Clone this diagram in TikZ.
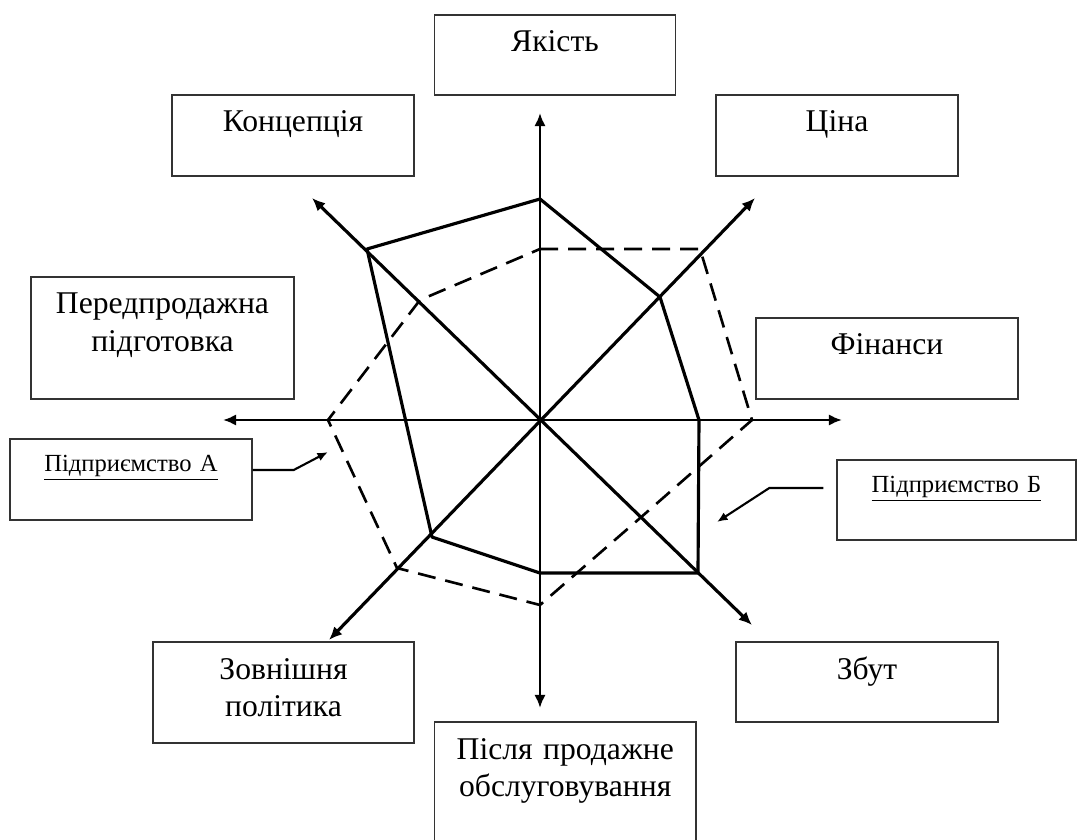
\documentclass[tikz,border=0pt]{standalone}
\usepackage{fontspec}
\setmainfont{Liberation Serif}
\usetikzlibrary{arrows.meta}
\definecolor{frame}{HTML}{333333}

\begin{document}
\begin{tikzpicture}[font=\fontsize{18}{21.3}\selectfont,box/.style={draw=frame,line width=0.8pt,inner sep=0pt,align=center,text height=0.74cm},firm/.style={box,font=\fontsize{14}{17}\selectfont,text height=0.65cm},axis/.style={{Latex[length=7.5pt,width=6.5pt]}-{Latex[length=7.5pt,width=6.5pt]},line width=1.8pt},plotA/.style={line width=1.5pt,dash pattern=on 0.36cm off 0.2cm},plotB/.style={line width=1.8pt,line join=round},callout/.style={-{Latex[length=6pt,width=5pt]},line width=1.2pt}]
\useasboundingbox (-10.8,-8.4) rectangle (10.76,8.4);
\clip (-10.8,-8.4) rectangle (10.76,8.4);
\node[box,text width=4.82cm,text depth=0.86cm] (quality) at (0.30,7.30) {Якість};
\node[box,text width=4.84cm,text depth=0.88cm] (concept) at (-4.94,5.69) {Концепція};
\node[box,text width=4.84cm,text depth=0.88cm] (price) at (5.94,5.69) {Ціна};
\node[box,text width=5.26cm,text depth=1.70cm] (presale) at (-7.55,1.64) {Передпродажна\\підготовка};
\node[box,text width=5.24cm,text depth=0.88cm] (finance) at (6.94,1.23) {Фінанси};
\node[firm,text width=4.84cm,text depth=0.97cm] (entA) at (-8.18,-1.19) {\underline{Підприємство А}};
\node[firm,text width=4.78cm,text depth=0.95cm] (entB) at (8.33,-1.60) {\underline{Підприємство Б}};
\node[box,text width=5.22cm,text depth=1.28cm] (policy) at (-5.13,-5.45) {Зовнішня\\політика};
\node[box,text width=5.24cm,text depth=0.86cm] (sales) at (6.54,-5.24) {Збут};
\node[box,text width=5.23cm,text depth=1.74cm] (service) at (0.505,-7.28) {Після продажне\\обслуговування};
% axes
\coordinate (tN) at (0,6.14);
\coordinate (tS) at (0,-5.76);
\coordinate (tW) at (-6.34,0);
\coordinate (tE) at (6.04,0);
\coordinate (tNW) at (-4.56,4.44);
\coordinate (tSE) at (4.24,-4.10);
\coordinate (tNE) at (4.30,4.44);
\coordinate (tSW) at (-4.22,-4.40);
\draw[axis,line width=1.5pt] (tS) -- (tN);
\draw[axis,line width=1.5pt] (tW) -- (tE);
\draw[axis] (tSE) -- (tNW);
\draw[axis] (tSW) -- (tNE);
% profiles
\draw[plotB] (0,4.42) -- (2.40,2.46) -- (3.18,0) -- (3.16,-3.06) -- (0,-3.06) -- (-2.16,-2.34) -- (-2.69,0) -- (-3.46,3.42) -- cycle;
\draw[plotA] (0,3.42) -- (3.20,3.42) -- (4.24,0) -- (1.98,-1.98) -- (0,-3.70) -- (-2.86,-2.96) -- (-4.24,0) -- (-2.40,2.40) -- cycle;
% callouts
\coordinate (ptA) at (-4.24,-0.64);
\coordinate (ptB) at (3.54,-2.04);
\draw[callout] ([yshift=0.19cm]entA.east) -- ++(0.82,0) -- (ptA);
\draw[callout] ([xshift=-0.26cm,yshift=0.24cm]entB.west) -- ++(-1.08,0) -- (ptB);
\end{tikzpicture}
\end{document}
